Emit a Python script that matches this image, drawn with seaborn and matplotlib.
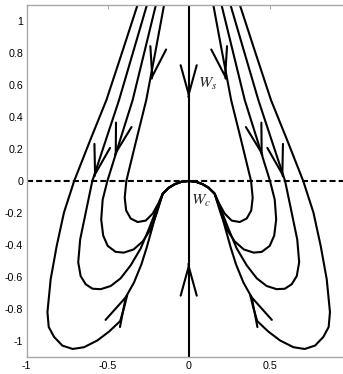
import matplotlib
matplotlib.use("Agg")
import matplotlib.pyplot as plt
import numpy as np
import pandas as pd
import seaborn as sns

# trajectories of the left half; the picture is mirror symmetric about x = 0
traj_a_x = [-0.307, -0.407, -0.508, -0.607, -0.707, -0.770, -0.815, -0.852, -0.872, -0.864, -0.831, -0.780,
            -0.716, -0.646, -0.564, -0.491, -0.423, -0.398, -0.378, -0.338, -0.292, -0.259, -0.228, -0.198, -0.160]
traj_a_y = [1.126, 0.815, 0.505, 0.257, 0.0, -0.197, -0.406, -0.613, -0.818, -0.911, -0.973, -1.027,
            -1.048, -1.037, -0.995, -0.939, -0.874, -0.787, -0.706, -0.634, -0.520, -0.414, -0.302, -0.191, -0.079]

traj_b_x = [-0.250, -0.340, -0.430, -0.511, -0.595, -0.636, -0.670, -0.682, -0.667, -0.636, -0.594, -0.543,
            -0.481, -0.420, -0.358, -0.296, -0.247, -0.204, -0.160]
traj_b_y = [1.126, 0.815, 0.505, 0.257, 0.0, -0.199, -0.365, -0.507, -0.593, -0.644, -0.672, -0.675,
            -0.655, -0.607, -0.526, -0.420, -0.302, -0.191, -0.079]

traj_c_x = [-0.196, -0.271, -0.346, -0.423, -0.502, -0.531, -0.540, -0.528, -0.500, -0.451, -0.401, -0.340,
            -0.284, -0.235, -0.198, -0.160]
traj_c_y = [1.126, 0.815, 0.505, 0.257, 0.0, -0.116, -0.240, -0.340, -0.405, -0.442, -0.447, -0.427,
            -0.377, -0.302, -0.203, -0.079]

traj_d_x = [-0.147, -0.204, -0.262, -0.323, -0.385, -0.395, -0.386, -0.358, -0.315, -0.265, -0.222, -0.188, -0.160]
traj_d_y = [1.126, 0.815, 0.505, 0.257, 0.0, -0.104, -0.184, -0.234, -0.256, -0.247, -0.203, -0.141, -0.079]

# centre manifold piece shared by all trajectories
wc_x = [-0.160, -0.123, -0.086, -0.043, 0.0]
wc_y = [-0.079, -0.042, -0.020, -0.004, 0.0]

# arrow heads on the left half: tip and a point behind it on the curve
arrow_tip_x = [-0.230, -0.457, -0.584, -0.378]
arrow_tip_y = [0.629, 0.152, 0.019, -0.704]
arrow_back_x = [-0.193, -0.410, -0.543, -0.456]
arrow_back_y = [0.807, 0.318, 0.182, -0.863]

# arrows on the stable manifold x = 0
ws_tip_y = [0.516, -0.509]
ws_back_y = [0.704, -0.686]

x_ticks = [-1, -0.5, 0, 0.5]
x_tick_labels = ["-1", "-0.5", "0", "0.5"]
y_ticks = [-1, -0.8, -0.6, -0.4, -0.2, 0, 0.2, 0.4, 0.6, 0.8, 1]
y_tick_labels = ["-1", "-0.8", "-0.6", "-0.4", "-0.2", "0", "0.2", "0.4", "0.6", "0.8", "1"]

sns.set_style("white")
plt.rcParams["font.family"] = ["Liberation Sans", "DejaVu Sans"]
plt.rcParams["mathtext.fontset"] = "stix"

rows = []
trajs = [(traj_a_x, traj_a_y), (traj_b_x, traj_b_y), (traj_c_x, traj_c_y), (traj_d_x, traj_d_y)]
for i, (tx, ty) in enumerate(trajs):
    xs = tx + wc_x[1:]
    ys = ty + wc_y[1:]
    for side in (1, -1):
        uid = f"{i}_{side}"
        for k, (xv, yv) in enumerate(zip(xs, ys)):
            rows.append({"x": side * xv, "y": yv, "curve": uid, "order": k})
df = pd.DataFrame(rows)

fig = plt.figure(figsize=(3.43, 3.74), dpi=100)
ax = fig.add_axes([26.7 / 343, 16.7 / 374, 324 / 343, 352.6 / 374])

sns.lineplot(data=df, x="x", y="y", units="curve", estimator=None, sort=False,
             color="black", lw=1.5, ax=ax, legend=False)

# stable manifold and the dashed axis
ax.plot([0, 0], [-1.1, 1.1], color="black", lw=1.5)
dash = ax.axhline(0, color="black", lw=1.5, ls="--")
dash.set_dashes((2.9, 1.5))

arrow_kw = dict(arrowstyle="->, head_length=2.1, head_width=0.58", color="black",
                lw=1.5, shrinkA=0, shrinkB=0, mutation_scale=10)

def draw_arrow(tx, ty, bx, by):
    d = np.hypot(bx - tx, by - ty)
    sx, sy = tx + 0.01 * (bx - tx) / d, ty + 0.01 * (by - ty) / d
    ax.annotate("", xy=(tx, ty), xytext=(sx, sy), arrowprops=arrow_kw)

for tx, ty, bx, by in zip(arrow_tip_x, arrow_tip_y, arrow_back_x, arrow_back_y):
    draw_arrow(tx, ty, bx, by)
    draw_arrow(-tx, ty, -bx, by)
for ty, by in zip(ws_tip_y, ws_back_y):
    draw_arrow(0.0, ty, 0.0, by)

ax.text(0.058, 0.58, r"$W_s$", fontsize=11.5, va="baseline", ha="left")
ax.text(0.012, -0.147, r"$W_c$", fontsize=11.5, va="baseline", ha="left")

ax.set_xlim(-1, 1)
ax.set_ylim(-1.1, 1.1)
ax.set_xticks(x_ticks)
ax.set_xticklabels(x_tick_labels)
ax.set_yticks(y_ticks)
ax.set_yticklabels(y_tick_labels)
ax.set_xlabel("")
ax.set_ylabel("")
ax.tick_params(direction="in", length=3, width=0.6, color="#909090", labelsize=7.7,
               labelcolor="black", pad=2.5, top=True, right=True)
for s in ax.spines.values():
    s.set_color("#a8a8a8")
    s.set_linewidth(1.0)

fig.savefig("out.png", dpi=100)
